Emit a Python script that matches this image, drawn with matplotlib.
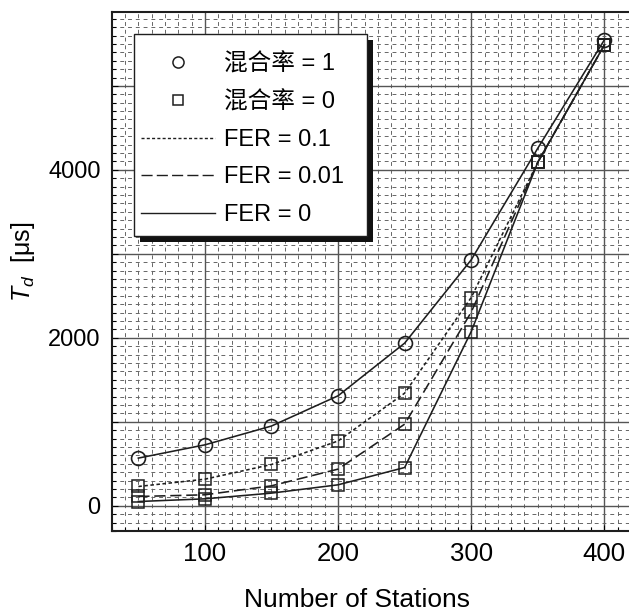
import matplotlib
matplotlib.use("Agg")
import matplotlib.pyplot as plt
from matplotlib.ticker import MultipleLocator, FuncFormatter
from matplotlib.patches import Rectangle
from matplotlib.lines import Line2D
from matplotlib.transforms import IdentityTransform

plt.rcParams['font.family'] = ['Liberation Sans', 'Noto Sans CJK SC', 'DejaVu Sans']
plt.rcParams['mathtext.fontset'] = 'custom'
plt.rcParams['mathtext.rm'] = 'Liberation Sans'
plt.rcParams['mathtext.it'] = 'Liberation Sans:italic'

# ---- data ----
stations = [50, 100, 150, 200, 250, 300, 350, 400]
mix1_fer0 = [568, 726, 950, 1310, 1937, 2929, 4258, 5548]
mix0_fer01 = [230, 317, 492, 772, 1341, 2480, 4091, 5488]
mix0_fer001 = [111, 131, 238, 437, 972, 2306, 4091, 5488]
mix0_fer0 = [51, 83, 151, 250, 456, 2075, 4091, 5488]

legend_labels = ['混合率 = 1', '混合率 = 0', 'FER = 0.1', 'FER = 0.01', 'FER = 0']
x_label = 'Number of Stations'
y_label = r'$T_d$  [μs]'

W, H = 629, 615
fig = plt.figure(figsize=(W / 100, H / 100), dpi=100)
L, R, T, B = 111.7, 631.0, 12.0, 531.0
ax = fig.add_axes([L / W, 1 - B / H, (R - L) / W, (B - T) / H])
ax.set_xlim(30, 420)
ax.set_ylim(-300, 5880)

ink = '#1e1e1e'
lw = 1.15
ms = 10
dotted = (0, (2.2, 1.6))
dashed = (0, (7, 3))

ax.plot(stations, mix0_fer01, color=ink, lw=lw, linestyle=dotted,
        marker='s', ms=ms - 0.8, mfc='none', mec=ink, mew=1.1, zorder=3)
ax.plot(stations, mix0_fer001, color=ink, lw=lw, linestyle=dashed,
        marker='s', ms=ms - 0.8, mfc='none', mec=ink, mew=1.1, zorder=3)
ax.plot(stations, mix0_fer0, color=ink, lw=lw, linestyle='-',
        marker='s', ms=ms - 0.8, mfc='none', mec=ink, mew=1.1, zorder=3)
ax.plot(stations, mix1_fer0, color=ink, lw=lw, linestyle='-',
        marker='o', ms=ms, mfc='none', mec=ink, mew=1.2, zorder=3)

# grid
ax.xaxis.set_major_locator(MultipleLocator(100))
ax.xaxis.set_minor_locator(MultipleLocator(10))
ax.yaxis.set_major_locator(MultipleLocator(1000))
ax.yaxis.set_minor_locator(MultipleLocator(100))
ax.yaxis.set_major_formatter(FuncFormatter(lambda v, p: f'{int(v)}' if int(round(v)) % 2000 == 0 else ''))
ax.grid(which='major', color='#555555', lw=1.0, linestyle='-', zorder=1)
ax.grid(which='minor', color='#666666', lw=0.7, linestyle=(0, (4, 4)), zorder=1)
ax.set_axisbelow(True)
ax.tick_params(which='both', direction='in', length=4, width=0.8, pad=7)
ax.tick_params(which='minor', length=3)
ax.tick_params(axis='x', labelsize=18.5, pad=8)
ax.tick_params(axis='y', labelsize=17, pad=8)
for s in ax.spines.values():
    s.set_linewidth(1.5)
    s.set_color(ink)

ax.set_xlabel(x_label, fontsize=19)
ax.xaxis.set_label_coords(0.472, -0.110)
ax.set_ylabel(y_label, fontsize=18)
ax.yaxis.set_label_coords(-0.144, 0.518)

handles = [
    Line2D([], [], linestyle='none', marker='o', ms=8, mfc='none', mec=ink, mew=1.1),
    Line2D([], [], linestyle='none', marker='s', ms=7.5, mfc='none', mec=ink, mew=1.1),
    Line2D([], [], color=ink, lw=1.0, linestyle=(0, (2.2, 1.6))),
    Line2D([], [], color=ink, lw=1.0, linestyle=(0, (8, 3))),
    Line2D([], [], color=ink, lw=1.0, linestyle='-'),
]

# legend frame and shadow in pixel coords (top-left origin converted)
fx0, fy0, fx1, fy1 = 134, 34, 367, 236
off = 6
shadow = Rectangle((fx0 + off, H - fy1 - off), fx1 - fx0, fy1 - fy0,
                   transform=IdentityTransform(), facecolor='#111111',
                   edgecolor='none', zorder=5.4)
frame = Rectangle((fx0, H - fy1), fx1 - fx0, fy1 - fy0,
                  transform=IdentityTransform(), facecolor='white',
                  edgecolor=ink, lw=1.0, zorder=5.5)
ax.add_artist(shadow)
ax.add_artist(frame)

leg = ax.legend(handles, legend_labels, loc='upper left',
                bbox_to_anchor=(141, H - 53), bbox_transform=IdentityTransform(),
                fontsize=17, frameon=False, handlelength=3.15, handletextpad=0.35,
                borderpad=0, labelspacing=0.66, borderaxespad=0)
leg.set_zorder(6)

fig.savefig('out.png', dpi=100)
